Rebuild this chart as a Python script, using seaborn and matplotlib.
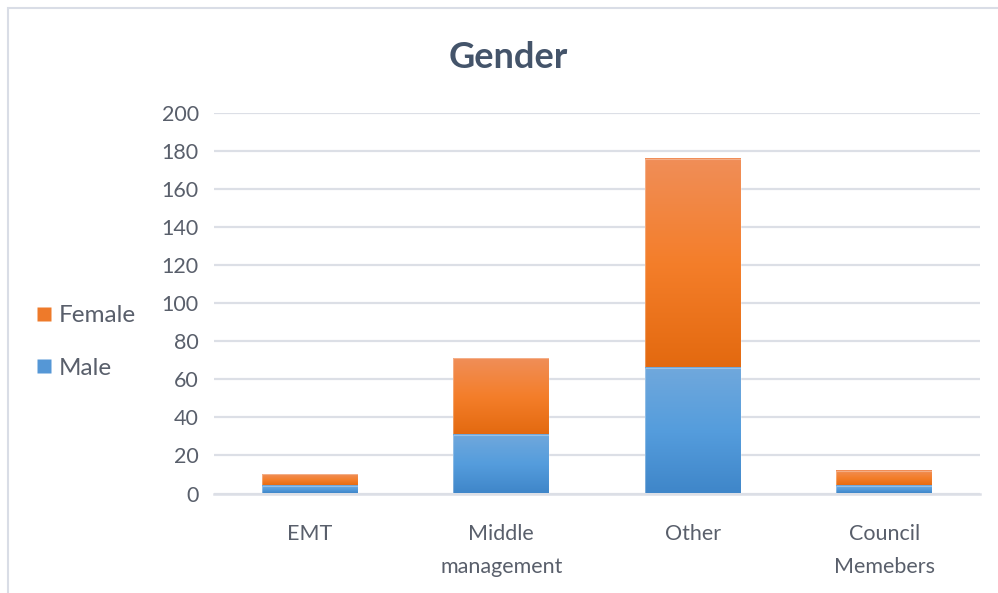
import numpy as np
import pandas as pd
import matplotlib
matplotlib.use("Agg")
import matplotlib.pyplot as plt
import seaborn as sns
from matplotlib.colors import LinearSegmentedColormap
from matplotlib.patches import Rectangle
from matplotlib.lines import Line2D

# Headcount by group and gender
categories = ["EMT", "Middle\nmanagement", "Other", "Council\nMemebers"]
male = [4, 31, 66, 4]
female = [6, 40, 110, 8]
y_ticks = [0, 20, 40, 60, 80, 100, 120, 140, 160, 180, 200]

df = pd.DataFrame({"group": categories, "Male": male, "Female": female})
df["Total"] = df["Male"] + df["Female"]

sns.set_theme(style="white")
plt.rcParams["font.family"] = ["Lato", "DejaVu Sans"]

text_col = "#595F6B"
title_col = "#44546A"
grid_col = "#DCDFE6"

fig = plt.figure(figsize=(9.98, 5.93), dpi=100)
ax = fig.add_axes([214 / 998, 1 - 493.5 / 593, (980 - 214) / 998, (493.5 - 113) / 593])

# Stacked bars: totals first (female part shows above), male on top of them
sns.barplot(data=df, x="group", y="Total", color="#ED7D31", width=0.5,
            ax=ax, saturation=1, zorder=3)
sns.barplot(data=df, x="group", y="Male", color="#5B9BD5", width=0.5,
            ax=ax, saturation=1, zorder=4)

orange_cmap = LinearSegmentedColormap.from_list(
    "org", ["#E3690F", "#F47E2A", "#F08E58"])
blue_cmap = LinearSegmentedColormap.from_list(
    "blu", ["#3F86C9", "#559DDD", "#70A8DC"])

n = len(categories)
grad = np.linspace(0, 1, 256).reshape(-1, 1)
for i, p in enumerate(ax.patches):
    cmap = orange_cmap if i < n else blue_cmap
    x0, y0 = p.get_x(), p.get_y()
    w, h = p.get_width(), p.get_height()
    if i < n:
        # female part spans from male top to total
        y0 = male[i]
        h = h - male[i]
    p.set_facecolor("none")
    p.set_edgecolor("none")
    ax.imshow(grad, cmap=cmap, origin="lower", aspect="auto",
              extent=[x0, x0 + w, y0, y0 + h], zorder=p.get_zorder(),
              interpolation="bilinear")
    ax.add_patch(Rectangle((x0, y0), w, h, facecolor="none",
                           edgecolor=(1, 1, 1, 0.3), linewidth=0.8,
                           zorder=p.get_zorder() + 0.5))

ax.set_xlim(-0.5, n - 0.5)
ax.set_ylim(0, 200)
ax.set_yticks(y_ticks)
ax.set_yticklabels([str(t) for t in y_ticks])
ax.yaxis.grid(True, color=grid_col, linewidth=1.6, zorder=0)
ax.set_axisbelow(True)
for s in ["top", "right", "left"]:
    ax.spines[s].set_visible(False)
ax.spines["bottom"].set_color(grid_col)
ax.spines["bottom"].set_linewidth(1.8)
ax.spines["bottom"].set_zorder(5)
ax.set_xlabel("")
ax.set_ylabel("")
ax.tick_params(axis="y", length=0, pad=11, labelsize=15.5, labelcolor=text_col)
ax.tick_params(axis="x", length=0, pad=22, labelsize=15.5, labelcolor=text_col)
for lab in ax.get_xticklabels():
    lab.set_linespacing(1.8)

fig.text(508 / 998, 1 - 57 / 593, "Gender", ha="center", va="center",
         fontsize=26, fontweight="bold", color=title_col)

handles = [Line2D([], [], marker="s", linestyle="none", markersize=9.5,
                  markerfacecolor="#EE7A2A", markeredgecolor="none"),
           Line2D([], [], marker="s", linestyle="none", markersize=9.5,
                  markerfacecolor="#5597D6", markeredgecolor="none")]
fig.legend(handles, ["Female", "Male"], loc="center left",
           bbox_to_anchor=(15 / 998, 1 - 342 / 593), frameon=False,
           fontsize=17.5, labelcolor=text_col, handlelength=0.6,
           handletextpad=0.3, labelspacing=1.3)

# Chart area frame
fig.patches.append(Rectangle((8 / 998, -0.1), 1.2, 1 - 8 / 593 + 0.1,
                             transform=fig.transFigure, facecolor="none",
                             edgecolor="#D9DDE6", linewidth=1.5))

fig.savefig("out.png", dpi=100)
